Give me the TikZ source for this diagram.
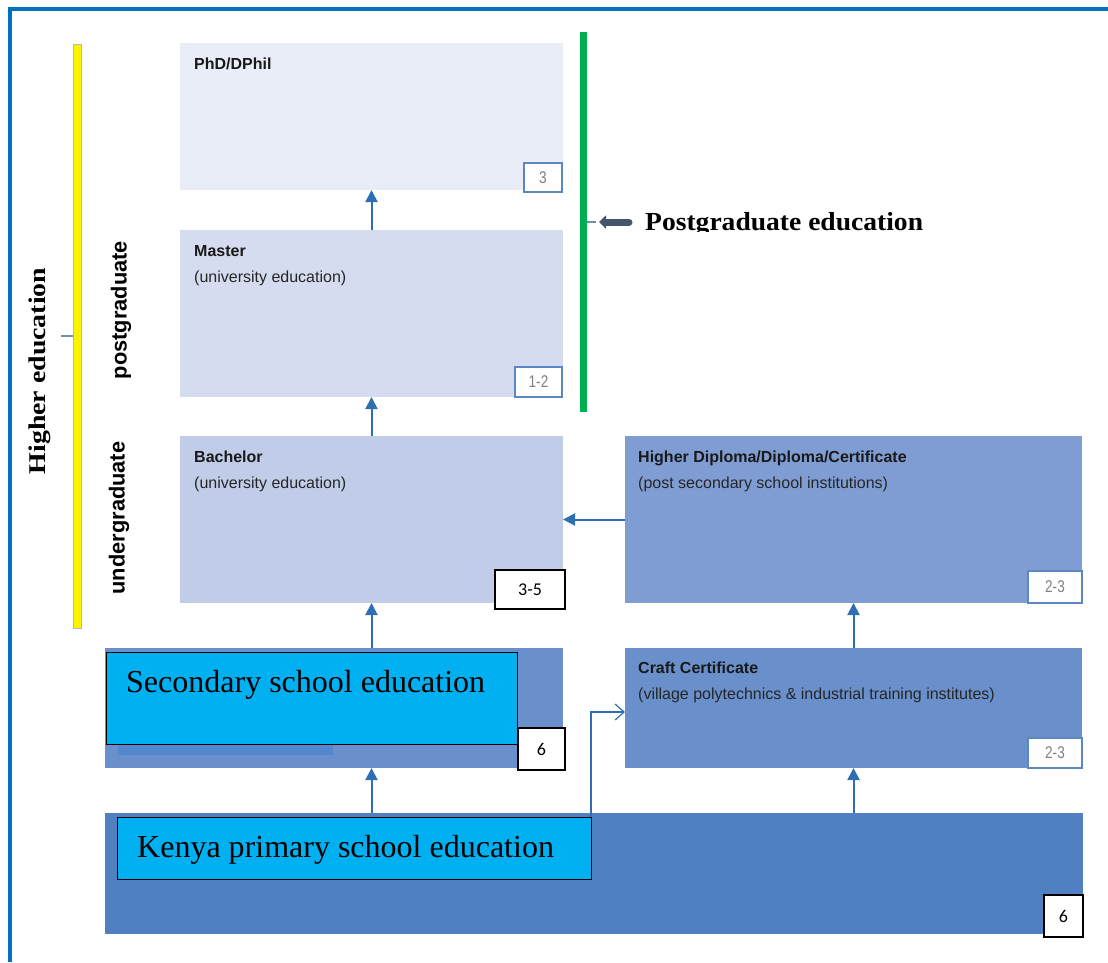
\documentclass[tikz,border=0pt]{standalone}
\usepackage{fontspec}
\setmainfont{Liberation Serif}
\setsansfont{Liberation Sans}
\newfontfamily\calfont{Carlito}
\usetikzlibrary{arrows.meta}

\definecolor{frameblue}{HTML}{0070C0}
\definecolor{phdfill}{HTML}{E9EDF8}
\definecolor{masfill}{HTML}{D6DCF0}
\definecolor{bachfill}{HTML}{C1CCE9}
\definecolor{hdipfill}{HTML}{7F9DD3}
\definecolor{craftfill}{HTML}{6990CB}
\definecolor{primfill}{HTML}{4F80C1}
\definecolor{stripfill}{HTML}{5587CF}
\definecolor{cyanfill}{HTML}{00B0F0}
\definecolor{arrblue}{HTML}{2E6FB4}
\definecolor{yrsblue}{HTML}{5B87C2}
\definecolor{barblue}{HTML}{44546A}
\definecolor{greenbar}{HTML}{00B050}
\definecolor{tickgray}{HTML}{6F8DB5}

\tikzset{
  stage/.style={inner sep=0pt, outer sep=0pt, anchor=north west, draw=none},
  lab/.style={inner sep=0pt, anchor=base west, text=black!85,
    font=\sffamily\fontsize{16}{19}\selectfont},
  labb/.style={lab, text=black!90,
    font=\sffamily\bfseries\fontsize{16}{19}\selectfont},
  yrs/.style={draw=yrsblue, line width=1.3pt, fill=white, inner sep=0pt,
    outer sep=0pt, anchor=north west, text=black!50,
    font=\sffamily\fontsize{17}{19}\selectfont},
  yrsk/.style={draw=black, line width=1.3pt, fill=white, inner sep=0pt,
    outer sep=0pt, anchor=north west, font=\calfont\fontsize{18}{20}\selectfont},
  up/.style={draw=arrblue, line width=2pt, -{Triangle[length=12pt,width=12pt]}},
  cyanbox/.style={draw=black, line width=1pt, fill=cyanfill, inner sep=0pt,
    outer sep=0pt, anchor=north west},
  bigtext/.style={inner sep=0pt, anchor=base west, font=\fontsize{32}{37}\selectfont},
  sidetext/.style={inner sep=0pt, rotate=90,
    font=\sffamily\bfseries\fontsize{21.8}{25}\selectfont},
}
\newcommand{\narrow}[1]{\scalebox{0.8}[1]{#1}}

\begin{document}
\begin{tikzpicture}[x=1pt,y=-1pt]
\useasboundingbox (0,0) rectangle (1108,962);

% page frame (top and left rules)
\fill[frameblue] (8,7) rectangle (1108,11);
\fill[frameblue] (8,7) rectangle (12,962);

% university levels
\node[stage, fill=phdfill, minimum width=383pt, minimum height=147pt] (phd) at (180,43) {};
\node[stage, fill=masfill, minimum width=383pt, minimum height=167pt] (mas) at (180,230) {};
\node[stage, fill=bachfill, minimum width=383pt, minimum height=167pt] (bach) at (180,436) {};
\node[stage, fill=hdipfill, minimum width=457pt, minimum height=167pt] (hdip) at (625,436) {};
\node[stage, fill=craftfill, minimum width=457pt, minimum height=120pt] (craft) at (625,648) {};
\node[stage, fill=craftfill, minimum width=458pt, minimum height=120pt] (sec) at (105,648) {};
\node[stage, fill=stripfill, minimum width=215pt, minimum height=12pt] (secstrip) at (118,743) {};
\node[stage, fill=primfill, minimum width=978pt, minimum height=121pt] (prim) at (105,813) {};

% level titles
\node[labb] (phdt) at (194,69) {PhD/DPhil};
\node[labb] (mast) at (194,256) {Master};
\node[lab]  (masu) at (194,282) {(university education)};
\node[labb] (bacht) at (194,462) {Bachelor};
\node[lab]  (bachu) at (194,488) {(university education)};
\node[labb] (hdipt) at (638,462) {Higher Diploma/Diploma/Certificate};
\node[lab]  (hdipu) at (638,488) {(post secondary school institutions)};
\node[labb] (craftt) at (638,673) {Craft Certificate};
\node[lab]  (craftu) at (638,699) {(village polytechnics \& industrial training institutes)};

% duration tags
\node[yrs, minimum width=38pt, minimum height=29pt] (y3) at (524,163) {\narrow{3}};
\node[yrs, minimum width=47pt, minimum height=30pt] (y12) at (515,367) {\narrow{1-2}};
\node[yrs, minimum width=54pt, minimum height=32pt] (y23a) at (1028,571) {\narrow{2-3}};
\node[yrs, minimum width=54pt, minimum height=30pt] (y23b) at (1028,738) {\narrow{2-3}};
\node[yrsk, minimum width=70pt, minimum height=39pt] (y35) at (495,570) {3-5};

% school overlays
\node[cyanbox, minimum width=411pt, minimum height=92pt] (secl) at (106,652) {};
\node[bigtext] (sect) at (126,692) {Secondary school education};
\node[yrsk, minimum width=47pt, minimum height=42pt] (y6a) at (518,728) {6};
\node[cyanbox, minimum width=474pt, minimum height=62pt] (priml) at (117,817) {};
\node[bigtext] (primt) at (137,857) {Kenya primary school education};
\node[yrsk, minimum width=39pt, minimum height=42pt] (y6b) at (1044,895) {6};

% progression arrows
\draw[up] (mas.north -| phd.south) -- (phd.south);
\draw[up] (bach.north) -- (mas.south);
\draw[up] (bach.south |- sec.north) -- (bach.south);
\draw[up] (bach.south |- prim.north) -- (bach.south |- sec.south);
\draw[up] (hdip.west) -- (bach.east);
\draw[up] (craft.north) -- (hdip.south);
\draw[up] (craft.south |- prim.north) -- (craft.south);
\draw[arrblue, line width=1.2pt, -{Straight Barb[length=9pt,width=16pt]}]
  (priml.north east) |- ([yshift=-4pt]craft.west);

% higher education bracket
\node[stage, fill=yellow, draw=tickgray!60, line width=0.8pt,
  minimum width=8pt, minimum height=584pt] (ybar) at (73,44) {};
\draw[tickgray, line width=1.5pt] (ybar.west) -- ++(-12,0) coordinate (ytick);
\node[sidetext, font=\bfseries\fontsize{24}{28}\selectfont] (hed) at (40,371)
  {\scalebox{1.16}[1]{Higher education}};
\node[sidetext] (pg) at (121,310) {postgraduate};
\node[sidetext] (ug) at (119,518) {undergraduate};

% postgraduate bracket
\node[stage, fill=greenbar, minimum width=7pt, minimum height=380pt] (gbar) at (580,32) {};
\draw[tickgray, line width=1.5pt] (gbar.east |- 0,222) coordinate (gtick) -- ++(9,0);
\coordinate (pgtail) at (629,222);
\draw[barblue, line width=7pt, line cap=round, -{Triangle[length=7pt,width=13pt]}]
  (pgtail) -- ([xshift=12pt]gtick);
\begin{scope}
  \clip (640,195) rectangle (950,231);
  \node[inner sep=0pt, anchor=base west, font=\bfseries\fontsize{26}{30}\selectfont]
    (pgt) at (645,230) {\scalebox{1.06}[1]{Postgraduate education}};
\end{scope}
\end{tikzpicture}
\end{document}
